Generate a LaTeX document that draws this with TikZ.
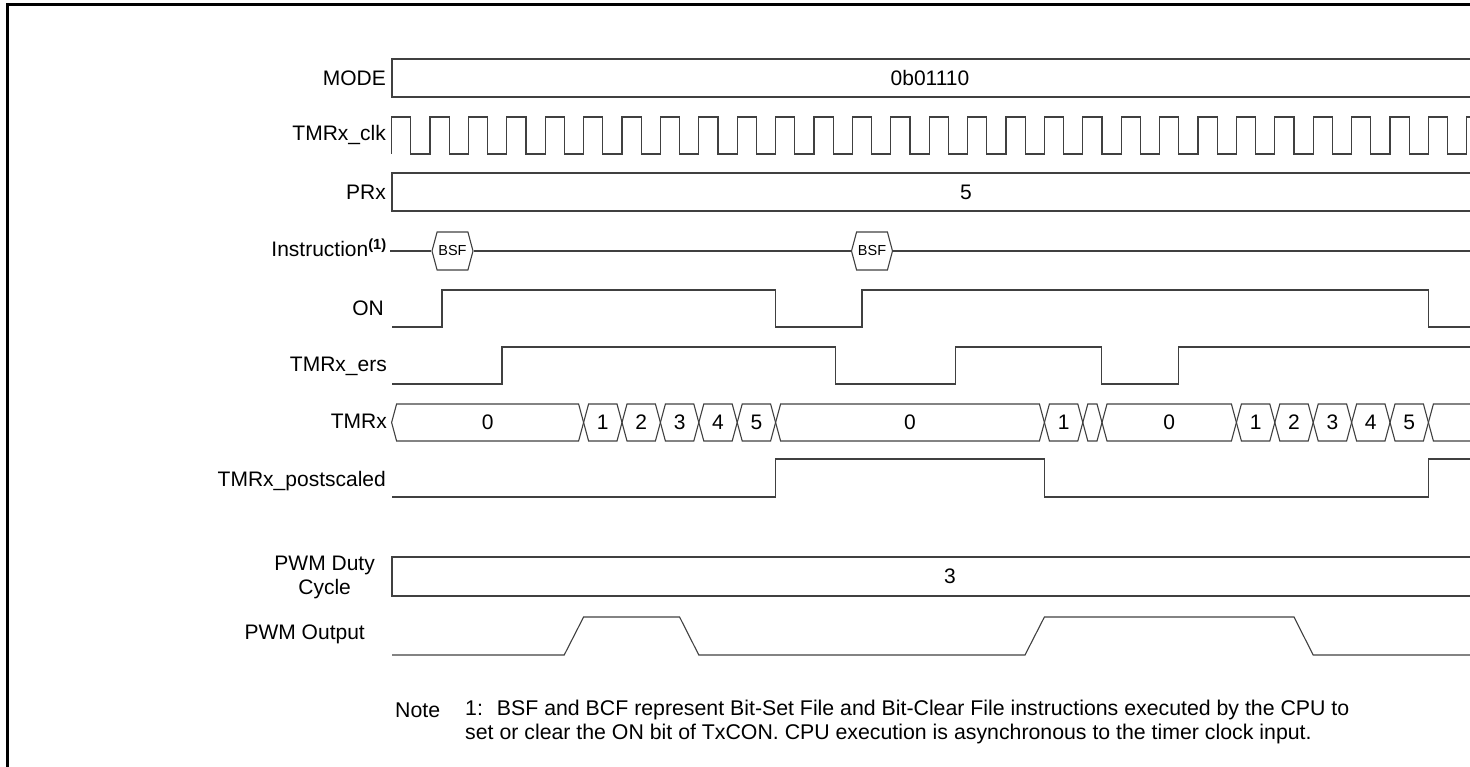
\documentclass[tikz,border=0pt]{standalone}
\usepackage{fontspec}
\setmainfont{Liberation Sans}
\usetikzlibrary{shapes.symbols}

\begin{document}
\begin{tikzpicture}[x=1pt,y=-1pt,
  wave/.style={draw=black!75,line width=1.1pt},
  sig/.style={anchor=east,font=\fontsize{21}{24}\selectfont,inner sep=0pt},
  val/.style={font=\fontsize{21}{24}\selectfont,inner sep=0pt},
  instbox/.style={signal,signal to=west and east,signal pointer angle=150,draw=black!75,
                  line width=1.1pt,minimum height=38pt,minimum width=41pt,inner sep=0pt,
                  font=\fontsize{14.5}{16}\selectfont},
  notetext/.style={anchor=west,font=\fontsize{21.3}{24}\selectfont,inner sep=0pt}]
  \clip (0,0) rectangle (1470,767);
  \draw[line width=3pt] (7,767) -- (7,5) -- (1470,5);
  % signal names
  \node[sig] (mode) at (386,78) {MODE};
  \node[sig] (clk) at (386,135) {TMRx\_clk};
  \node[sig] (prx) at (386,192) {PRx};
  \node[sig] (instr) at (387,248) {Instruction\textsuperscript{\textbf{(1)}}};
  \node[sig] (on) at (384,308) {ON};
  \node[sig] (ers) at (387,366) {TMRx\_ers};
  \node[sig] (tmr) at (387,421) {TMRx};
  \node[sig] (post) at (386,481) {TMRx\_postscaled};
  \node[sig,align=center] (duty) at (375,577) {PWM Duty\\Cycle};
  \node[sig] (pwm) at (365,634) {PWM Output};
  % buses
  \draw[wave] (1480,59) -- (392,59) -- (392,97) -- (1480,97);
  \node[val] (modev) at (930,78) {0b01110};
  \draw[wave] (1480,173) -- (392,173) -- (392,211) -- (1480,211);
  \node[val] (prxv) at (966,192) {5};
  \draw[wave] (1480,557) -- (392,557) -- (392,596) -- (1480,596);
  \node[val] (dutyv) at (950,576) {3};
  % clock
  \draw[wave] (391.6,154) \foreach \k in {0,...,27}{ -- ++(0,-37) -- ++(19.2,0) -- ++(0,37) -- ++(19.2,0)}
    -- ++(0,-37) -- (1470,117);
  % instruction
  \node[instbox] (bsf1) at (452.5,251) {BSF};
  \node[instbox] (bsf2) at (872,251) {BSF};
  \coordinate (iend) at (1470,251);
  \draw[wave] (instr.east |- bsf1.west) ++(3,0) -- (bsf1.west);
  \draw[wave] (bsf1.east) -- (bsf2.west);
  \draw[wave] (bsf2.east) -- (iend);
  % control lines
  \draw[wave] (392,327) -| (442,290) -| (775.6,327) -| (862,290) -| (1428.4,327) -- (1470,327);
  \draw[wave] (392,384) -| (502,347) -| (835.4,384) -| (955.3,347) -| (1101.8,384) -| (1178.2,347) -- (1470,347);
  % counter values
  \foreach \a/\b/\t [count=\i] in {391.6/583.6/0,583.6/622/1,622/660.4/2,660.4/698.8/3,698.8/737.2/4,
      737.2/775.6/5,775.6/1044.4/0,1044.4/1082.8/1,1082.8/1102/,1102/1236.4/0,1236.4/1274.8/1,
      1274.8/1313.2/2,1313.2/1351.6/3,1351.6/1390/4,1390/1428.4/5,1428.4/1500/}{
    \draw[wave] (\a,422.5) -- (\a+5,404) -- (\b-5,404) -- (\b,422.5) -- (\b-5,441) -- (\a+5,441) -- cycle;
    \node[val] (cnt\i) at ({(\a+\b)/2},422.5) {\t};
  }
  \draw[wave] (392,497) -| (775.6,459) -| (1044.4,497) -| (1428.4,459) -- (1470,459);
  \draw[wave] (392,655) -- (564.2,655) -- (583.6,617) -- (679.6,617) -- (698.8,655) -- (1025,655)
    -- (1044.4,617) -- (1294,617) -- (1313.2,655) -- (1470,655);
  % note
  \node[notetext] (note) at (395,710) {Note};
  \node[notetext] (note1) at (465,710) {1:\hspace{14pt}BSF and BCF represent Bit-Set File and Bit-Clear File instructions executed by the CPU to};
  \node[notetext] (note2) at (465,734) {set or clear the ON bit of TxCON. CPU execution is asynchronous to the timer clock input.};
\end{tikzpicture}
\end{document}
